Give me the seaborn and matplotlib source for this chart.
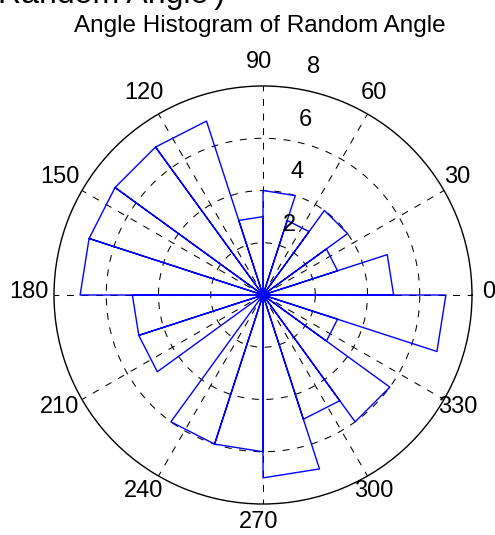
import numpy as np
import matplotlib
matplotlib.use("Agg")
import matplotlib.pyplot as plt
import seaborn as sns

# rose histogram of 100 random angles, 20 bins of 18 degrees starting at 0
bin_width_deg = 18
counts = [5, 3, 4, 3, 4, 3, 7, 7, 7, 7, 5, 5, 0, 6, 6, 7, 5, 6, 3, 7]
angle_ticks = list(range(0, 360, 30))
r_ticks = [2, 4, 6, 8]
rmax = 8
title = "Angle Histogram of Random Angle"
top_fragment = "Random Angle')"

plt.rcParams['font.family'] = ['Liberation Sans', 'DejaVu Sans']
plt.rcParams['lines.scale_dashes'] = False

# rose outline, as MATLAB's rose() builds it: 0 -> r -> r -> 0 for every bin
theta, rad = [], []
for i, c in enumerate(counts):
    a0 = np.deg2rad(i * bin_width_deg)
    a1 = np.deg2rad((i + 1) * bin_width_deg)
    theta += [a0, a0, a1, a1]
    rad += [0, c, c, 0]

fig = plt.figure(figsize=(4.95, 5.35), dpi=100)
ax = fig.add_axes([54 / 495, 31 / 535, 418 / 495, 418 / 535], projection='polar')

sns.lineplot(x=np.array(theta), y=np.array(rad), sort=False, estimator=None,
             color=(0, 0, 1), linewidth=1.0, ax=ax)

ax.set_ylim(0, rmax)
ax.set_thetagrids(angle_ticks, labels=[''] * len(angle_ticks))
ax.set_rgrids(r_ticks[:-1], labels=[''] * (len(r_ticks) - 1))
ax.grid(True, color='black', linestyle=(0, (5, 5.5)), linewidth=0.75)
ax.spines['polar'].set_linewidth(1.0)
ax.spines['polar'].set_color('black')
ax.set_xlabel('')
ax.set_ylabel('')
ax.tick_params(length=0)


def polar_pos(x, y):
    return np.arctan2(y, x), np.hypot(x, y)


# angle labels at 1.1*rmax, nudged a little up-left like the MATLAB text boxes
for a in angle_ticks:
    x = 1.1 * rmax * np.cos(np.deg2rad(a)) - 0.17
    y = 1.1 * rmax * np.sin(np.deg2rad(a)) + 0.13
    t, r = polar_pos(x, y)
    ax.text(t, r, str(a), ha='center', va='center', fontsize=17, color='black')

# radial labels, just right of the 90 degree spoke
for k in r_ticks:
    t, r = polar_pos(0.72 + 0.15 * k, 0.65 + 1.01 * k)
    ax.text(t, r, str(k), ha='center', va='center', fontsize=17, color='black')

fig.text(259.5 / 495, 1 - 32 / 535, title, ha='center', va='baseline',
         fontsize=17.5, color='black')
fig.text(-2 / 495, 1 - 3 / 535, top_fragment, ha='left', va='baseline',
         fontsize=23, color='black')

fig.savefig('out.png', dpi=100)
